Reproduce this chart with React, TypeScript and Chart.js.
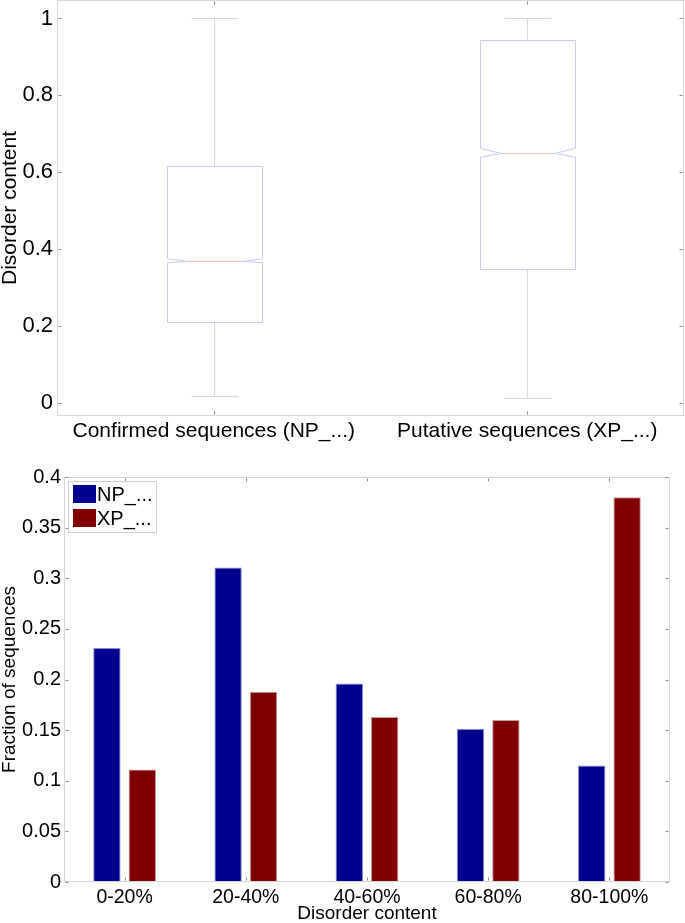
import React, { useEffect, useRef } from "react";
import { Chart, registerables } from "chart.js";
Chart.register(...registerables);

const FONT = "'Liberation Sans', Arial, Helvetica, sans-serif";

// ---- Top chart: notched box plot ----
const boxCategories = ["Confirmed sequences (NP_...)", "Putative sequences (XP_...)"];
const boxLowerWhisker = [0.017, 0.013];
const boxQ1 = [0.211, 0.347];
const boxMedian = [0.369, 0.65];
const boxQ3 = [0.617, 0.943];
const boxUpperWhisker = [1.0, 1.0];
const boxNotchLow = [0.364, 0.639];
const boxNotchHigh = [0.374, 0.662];
const boxYTicks = [0, 0.2, 0.4, 0.6, 0.8, 1];

// ---- Bottom chart: grouped bars ----
const barCategories = ["0-20%", "20-40%", "40-60%", "60-80%", "80-100%"];
const npFractions = [0.231, 0.3105, 0.196, 0.151, 0.115];
const xpFractions = [0.111, 0.188, 0.163, 0.16, 0.38];
const barYTicks = [0, 0.05, 0.1, 0.15, 0.2, 0.25, 0.3, 0.35, 0.4];
const seriesLabels = ["NP_...", "XP_..."];
const seriesColors = ["#00008F", "#800000"];

const FRAME = "#d6d6d6";
const TICK = "#8a8a8a";

function drawFrameAndTicks(chart: any, xTickValues: number[], yTickValues: number[]) {
  const { ctx, chartArea: ca, scales } = chart;
  const xs = scales.x;
  const ys = scales.y;
  ctx.save();
  ctx.strokeStyle = FRAME;
  ctx.lineWidth = 1;
  const l = Math.round(ca.left) + 0.5;
  const r = Math.round(ca.right) - 0.5;
  const t = Math.round(ca.top) + 0.5;
  const b = Math.round(ca.bottom) - 0.5;
  ctx.strokeRect(l, t, r - l, b - t);
  ctx.strokeStyle = TICK;
  ctx.beginPath();
  const len = 3;
  for (const v of yTickValues) {
    const y = Math.round(ys.getPixelForValue(v)) + 0.5;
    ctx.moveTo(l + 1, y);
    ctx.lineTo(l + 1 + len, y);
    ctx.moveTo(r - 1, y);
    ctx.lineTo(r - 1 - len, y);
  }
  for (const v of xTickValues) {
    const x = Math.round(xs.getPixelForValue(v)) + 0.5;
    ctx.moveTo(x, b - 1);
    ctx.lineTo(x, b - 1 - len);
    ctx.moveTo(x, t + 1);
    ctx.lineTo(x, t + 1 + len);
  }
  ctx.stroke();
  ctx.restore();
}

const boxPlugin = {
  id: "notchedBoxes",
  afterDatasetsDraw(chart: any) {
    const { ctx, scales } = chart;
    const xs = scales.x;
    const ys = scales.y;
    drawFrameAndTicks(chart, boxCategories.map((_, i) => i), boxYTicks);
    const catW = Math.abs(xs.getPixelForValue(1) - xs.getPixelForValue(0));
    const hw = catW * 0.15;
    const cap = catW * 0.075;
    const inset = catW * 0.065;
    const px = (v: number) => Math.round(v) + 0.5;
    ctx.save();
    ctx.lineWidth = 1;
    boxCategories.forEach((_, i) => {
      const cx = px(xs.getPixelForValue(i));
      const yLo = px(ys.getPixelForValue(boxLowerWhisker[i]));
      const yQ1 = px(ys.getPixelForValue(boxQ1[i]));
      const yNL = ys.getPixelForValue(boxNotchLow[i]);
      const yMed = px(ys.getPixelForValue(boxMedian[i]));
      const yNH = ys.getPixelForValue(boxNotchHigh[i]);
      const yQ3 = px(ys.getPixelForValue(boxQ3[i]));
      const yHi = px(ys.getPixelForValue(boxUpperWhisker[i]));
      const L = px(cx - hw);
      const R = px(cx + hw);
      ctx.strokeStyle = "#d5d5e3";
      ctx.beginPath();
      ctx.moveTo(cx, yQ3);
      ctx.lineTo(cx, yHi);
      ctx.moveTo(cx, yQ1);
      ctx.lineTo(cx, yLo);
      ctx.moveTo(px(cx - cap), yHi);
      ctx.lineTo(px(cx + cap), yHi);
      ctx.moveTo(px(cx - cap), yLo);
      ctx.lineTo(px(cx + cap), yLo);
      ctx.stroke();
      ctx.strokeStyle = "#cacaee";
      ctx.beginPath();
      ctx.moveTo(L, yQ1);
      ctx.lineTo(L, yNL);
      ctx.lineTo(L + inset, yMed);
      ctx.lineTo(L, yNH);
      ctx.lineTo(L, yQ3);
      ctx.lineTo(R, yQ3);
      ctx.lineTo(R, yNH);
      ctx.lineTo(R - inset, yMed);
      ctx.lineTo(R, yNL);
      ctx.lineTo(R, yQ1);
      ctx.closePath();
      ctx.stroke();
      ctx.strokeStyle = "#f2c2c2";
      ctx.beginPath();
      ctx.moveTo(L + inset, yMed);
      ctx.lineTo(R - inset, yMed);
      ctx.stroke();
    });
    ctx.restore();
  },
};

const barPlugin = {
  id: "barFrameLegend",
  afterDatasetsDraw(chart: any) {
    const { ctx, chartArea: ca } = chart;
    drawFrameAndTicks(chart, barCategories.map((_, i) => i), barYTicks);
    const lx = Math.round(ca.left) + 4;
    const ly = Math.round(ca.top) + 4;
    const lw = 88;
    const lh = 51;
    ctx.save();
    ctx.fillStyle = "#ffffff";
    ctx.fillRect(lx, ly, lw, lh);
    ctx.strokeStyle = "#cfcfcf";
    ctx.lineWidth = 1;
    ctx.strokeRect(lx + 0.5, ly + 0.5, lw, lh);
    chart.data.datasets.forEach((ds: any, i: number) => {
      const sy = ly + 4 + i * 24;
      ctx.fillStyle = ds.backgroundColor;
      ctx.fillRect(lx + 5, sy, 23, 18);
      ctx.fillStyle = "#000";
      ctx.font = `20px ${FONT}`;
      ctx.textBaseline = "middle";
      ctx.textAlign = "left";
      ctx.fillText(ds.label, lx + 29, sy + 10);
    });
    ctx.restore();
  },
};

const noPad = (s: any) => {
  s.paddingTop = 0;
  s.paddingBottom = 0;
};

export default function App() {
  const topRef = useRef<HTMLCanvasElement>(null);
  const botRef = useRef<HTMLCanvasElement>(null);

  useEffect(() => {
    const top = new Chart(topRef.current as HTMLCanvasElement, {
      type: "bar",
      data: {
        labels: boxCategories,
        datasets: [
          {
            label: "box",
            data: boxCategories.map((_, i) => [boxQ1[i], boxQ3[i]]) as any,
            backgroundColor: "rgba(0,0,0,0)",
            borderWidth: 0,
          },
        ],
      },
      options: {
        animation: false,
        responsive: false,
        maintainAspectRatio: false,
        layout: { padding: { top: 0, right: 1, left: 0, bottom: 0 } },
        plugins: { legend: { display: false }, tooltip: { enabled: false } },
        scales: {
          x: {
            type: "category",
            offset: true,
            grid: { display: false, drawTicks: false },
            border: { display: false },
            ticks: {
              font: { family: FONT, size: 21 },
              color: "#000",
              padding: 3,
              maxRotation: 0,
              autoSkip: false,
            },
            afterFit: (s: any) => {
              s.height = 32;
            },
          },
          y: {
            type: "linear",
            min: -0.035,
            max: 1.048,
            grid: { display: false, drawTicks: false },
            border: { display: false },
            afterBuildTicks: (s: any) => {
              s.ticks = boxYTicks.map((v) => ({ value: v }));
            },
            ticks: {
              font: { family: FONT, size: 22 },
              color: "#000",
              padding: 4,
              callback: (v: any) => String(Math.round(Number(v) * 100) / 100),
            },
            title: {
              display: true,
              text: "Disorder content",
              font: { family: FONT, size: 21, lineHeight: 1 },
              color: "#000",
              padding: 0,
            },
            afterFit: (s: any) => {
              s.width = 57;
              noPad(s);
            },
          },
        },
      } as any,
      plugins: [boxPlugin],
    });

    const bot = new Chart(botRef.current as HTMLCanvasElement, {
      type: "bar",
      data: {
        labels: barCategories,
        datasets: [
          {
            label: seriesLabels[0],
            data: npFractions,
            backgroundColor: seriesColors[0],
            borderColor: "#8a8ad6",
            borderWidth: 1,
            categoryPercentage: 0.584,
            barPercentage: 0.774,
          },
          {
            label: seriesLabels[1],
            data: xpFractions,
            backgroundColor: seriesColors[1],
            borderColor: "#c99a9a",
            borderWidth: 1,
            categoryPercentage: 0.584,
            barPercentage: 0.774,
          },
        ],
      },
      options: {
        animation: false,
        responsive: false,
        maintainAspectRatio: false,
        layout: { padding: { top: 29, right: 15, left: 0, bottom: 0 } },
        plugins: { legend: { display: false }, tooltip: { enabled: false } },
        scales: {
          x: {
            type: "category",
            offset: true,
            grid: { display: false, drawTicks: false },
            border: { display: false },
            ticks: {
              font: { family: FONT, size: 19.5 },
              color: "#000",
              padding: 4,
              maxRotation: 0,
              autoSkip: false,
            },
            title: {
              display: true,
              text: "Disorder content",
              font: { family: FONT, size: 19, lineHeight: 1 },
              color: "#000",
              padding: 0,
            },
            afterFit: (s: any) => {
              s.height = 41;
            },
          },
          y: {
            type: "linear",
            min: 0,
            max: 0.4,
            grid: { display: false, drawTicks: false },
            border: { display: false },
            afterBuildTicks: (s: any) => {
              s.ticks = barYTicks.map((v) => ({ value: v }));
            },
            ticks: {
              font: { family: FONT, size: 20 },
              color: "#000",
              padding: 3,
              callback: (v: any) => String(Math.round(Number(v) * 100) / 100),
            },
            title: {
              display: true,
              text: "Fraction of sequences",
              font: { family: FONT, size: 19, lineHeight: 1 },
              color: "#000",
              padding: 0,
            },
            afterFit: (s: any) => {
              s.width = 64;
              noPad(s);
            },
          },
        },
      } as any,
      plugins: [barPlugin],
    });

    return () => {
      top.destroy();
      bot.destroy();
    };
  }, []);

  return (
    <div
      style={{
        position: "absolute",
        left: 0,
        top: 0,
        width: 685,
        height: 923,
        background: "#fff",
        overflow: "hidden",
      }}
    >
      <canvas ref={topRef} width={685} height={448} style={{ display: "block", width: 685, height: 448 }} />
      <canvas ref={botRef} width={685} height={475} style={{ display: "block", width: 685, height: 475 }} />
    </div>
  );
}
